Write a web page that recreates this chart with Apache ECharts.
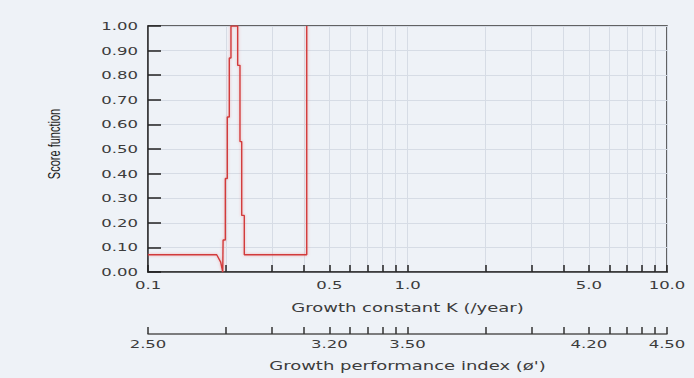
<!DOCTYPE html>
<html>
<head>
<meta charset="utf-8">
<script src="https://cdn.jsdelivr.net/npm/echarts@6/dist/echarts.min.js"></script>
<style>
html,body{margin:0;padding:0;background:#eef2f7;}
#chart{width:694px;height:378px;}
</style>
</head>
<body>
<div id="chart"></div>
<script>
// Data
var kValues = [0.1, 0.184, 0.1906, 0.1941, 0.1947, 0.1947, 0.1986, 0.1986, 0.2021, 0.2021, 0.2057, 0.2057, 0.2088, 0.2088, 0.2216, 0.2216, 0.2262, 0.2262, 0.2297, 0.2297, 0.235, 0.235, 0.409, 0.409];
var scoreValues = [0.07, 0.07, 0.04, 0.0, 0.0, 0.13, 0.13, 0.38, 0.38, 0.63, 0.63, 0.87, 0.87, 1.0, 1.0, 0.84, 0.84, 0.53, 0.53, 0.23, 0.23, 0.07, 0.07, 1.0];
var kTickValues = [0.1, 0.2, 0.3, 0.4, 0.5, 0.6, 0.7, 0.8, 0.9, 1, 2, 3, 4, 5, 6, 7, 8, 9, 10];
var kLabelValues = [0.1, 0.5, 1, 5, 10];
var kLabels = ['0.1', '0.5', '1.0', '5.0', '10.0'];
var phiLabels = ['2.50', '3.20', '3.50', '4.20', '4.50'];
var yTickLabels = ['0.00','0.10','0.20','0.30','0.40','0.50','0.60','0.70','0.80','0.90','1.00'];

var log10 = function (v) { return Math.log(v) / Math.LN10; };
var phiOf = function (k) { return 2.5 + log10(k / 0.1); };
function pickLabel(vals, labels, v) {
  var best = 0, bd = Infinity;
  for (var i = 0; i < vals.length; i++) { var d = Math.abs(vals[i] - v); if (d < bd) { bd = d; best = i; } }
  return labels[best];
}
var kLogTicks = kTickValues.map(log10);
var kLogLabels = kLabelValues.map(log10);
var phiTicks = kTickValues.map(phiOf);
var phiLabelPos = kLabelValues.map(phiOf);

var font = 'DejaVu Sans';
var txt = '#3c3c3c';
var chart = echarts.init(document.getElementById('chart'), null, { renderer: 'svg' });
chart.setOption({
  backgroundColor: '#eef2f7',
  animation: false,
  grid: { left: 148, top: 26, width: 519, height: 246, show: true, borderColor: '#333', borderWidth: 1.5, backgroundColor: 'transparent' },
  xAxis: [
    { type: 'log', logBase: 10, min: 0.1, max: 10, show: false },
    {
      type: 'value', min: -1, max: 1, position: 'bottom',
      name: 'Growth constant K (/year)', nameLocation: 'middle', nameGap: 30,
      nameTextStyle: { fontFamily: font, fontSize: 12, color: txt },
      axisLine: { show: true, onZero: false, lineStyle: { color: '#333', width: 1.5 } },
      axisTick: { show: true, inside: true, length: 7, customValues: kLogTicks, lineStyle: { color: '#222', width: 1.5 } },
      axisLabel: { customValues: kLogLabels, margin: 8, fontFamily: font, fontSize: 11, color: txt,
        formatter: function (v) { return pickLabel(kLogLabels, kLabels, v); } },
      splitLine: { show: true, lineStyle: { color: '#d6dce5', width: 1 } }
    },
    {
      type: 'value', min: 2.5, max: 4.5, position: 'bottom', offset: 62,
      name: 'Growth performance index (\u00f8\')', nameLocation: 'middle', nameGap: 26,
      nameTextStyle: { fontFamily: font, fontSize: 12, color: txt },
      axisLine: { show: true, onZero: false, lineStyle: { color: '#555', width: 1.5 } },
      axisTick: { show: true, inside: true, length: 7, customValues: phiTicks, lineStyle: { color: '#333', width: 1.5 } },
      axisLabel: { customValues: phiLabelPos, margin: 5, fontFamily: font, fontSize: 11, color: txt,
        formatter: function (v) { return pickLabel(phiLabelPos, phiLabels, v); } },
      splitLine: { show: false }
    }
  ],
  yAxis: {
    type: 'value', min: 0, max: 1, interval: 0.1,
    name: 'Score function', nameLocation: 'middle', nameGap: 88, nameRotate: 90,
    nameTextStyle: { fontFamily: 'Liberation Sans', fontSize: 11, color: '#222' },
    axisLine: { show: true, onZero: false, lineStyle: { color: '#333', width: 1.5 } },
    axisTick: { show: true, inside: true, length: 13, lineStyle: { color: '#222', width: 1.5 } },
    axisLabel: { margin: 10, fontFamily: font, fontSize: 11, color: txt,
      formatter: function (v) { return yTickLabels[Math.round(v * 10)]; } },
    splitLine: { show: true, lineStyle: { color: '#d6dce5', width: 1 } }
  },
  series: [{
    type: 'line', xAxisIndex: 0, showSymbol: false, symbol: 'none',
    data: kValues.map(function (k, i) { return [k, scoreValues[i]]; }),
    lineStyle: { color: '#d23a3a', width: 1.4, shadowColor: 'rgba(240,120,120,0.6)', shadowBlur: 3 }
  }]
});
// the reference's text is horizontally stretched: widen each text around its anchor
(function () {
  var svg = document.querySelector('#chart svg');
  if (!svg) return;
  var ns = 'http://www.w3.org/2000/svg';
  var texts = Array.prototype.slice.call(svg.querySelectorAll('text'));
  texts.forEach(function (t) {
    var r = t.getBoundingClientRect();
    var s = t.textContent;
    var isYTitle = s === 'Score function';
    var px = yTickLabels.indexOf(s) >= 0 ? r.right : (r.left + r.right) / 2;
    var dy = isYTitle ? -5 : 0;
    var g = document.createElementNS(ns, 'g');
    g.setAttribute('transform', 'translate(' + px + ',' + dy + ') scale(1.5,1) translate(' + (-px) + ',0)');
    t.parentNode.insertBefore(g, t);
    g.appendChild(t);
  });
})();
</script>
</body>
</html>
